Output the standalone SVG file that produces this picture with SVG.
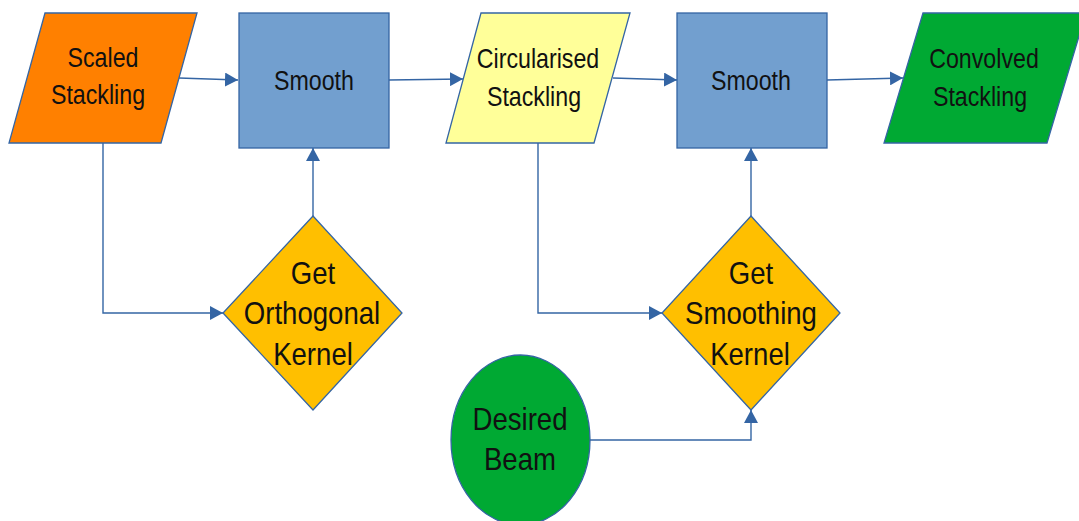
<svg xmlns="http://www.w3.org/2000/svg" width="1079" height="521" viewBox="0 0 1079 521">
  <defs>
    <marker id="arrow" markerUnits="userSpaceOnUse" markerWidth="14" markerHeight="14" viewBox="0 0 14 14" refX="13" refY="7" orient="auto">
      <path d="M0,0 L13,7 L0,14 Z" fill="#3465A4"/>
    </marker>
    <style>
      .shape { stroke: #3465A4; stroke-width: 1.3; }
      .io-orange { fill: #FF8000; }
      .io-yellow { fill: #FFFF99; }
      .io-green { fill: #00A933; }
      .process { fill: #729FCF; }
      .decision { fill: #FFBF00; }
      .start { fill: #00A933; }
      .conn { fill: none; stroke: #3465A4; stroke-width: 1.4; marker-end: url(#arrow); }
      .lbl { font-family: "Liberation Sans", Arial, sans-serif; fill: #111; text-anchor: middle; }
      .top { font-size: 23.2px; }
      .big { font-size: 27.6px; }
    </style>
  </defs>

  <!-- connectors -->
  <g id="connectors">
    <path class="conn" d="M179,78 L238,80"/>
    <path class="conn" d="M389,80 L463,79"/>
    <path class="conn" d="M613,78 L677,80"/>
    <path class="conn" d="M827,80 L903,78"/>
    <path class="conn" d="M313,216 L313,148"/>
    <path class="conn" d="M751,216 L751,148"/>
    <path class="conn" d="M103,143 L103,313 L223,313"/>
    <path class="conn" d="M538,143 L538,313 L662,313"/>
    <path class="conn" d="M590,440 L751,440 L751,410"/>
  </g>

  <!-- Scaled Stackling -->
  <g id="scaled-stackling">
    <polygon class="shape io-orange" points="45,13 197,13 161,143 9,143"/>
    <text class="lbl top" transform="translate(103,67) scale(1,1.2)">Scaled</text>
    <text class="lbl top" transform="translate(98,104) scale(1,1.2)">Stackling</text>
  </g>

  <!-- Smooth (first) -->
  <g id="smooth-1">
    <rect class="shape process" x="239" y="13" width="150" height="135"/>
    <text class="lbl top" transform="translate(314,90) scale(1,1.2)">Smooth</text>
  </g>

  <!-- Circularised Stackling -->
  <g id="circularised-stackling">
    <polygon class="shape io-yellow" points="481,13 630,13 594,143 446,143"/>
    <text class="lbl top" transform="translate(538,68) scale(1,1.2)">Circularised</text>
    <text class="lbl top" transform="translate(534,106) scale(1,1.2)">Stackling</text>
  </g>

  <!-- Smooth (second) -->
  <g id="smooth-2">
    <rect class="shape process" x="677" y="13" width="150" height="135"/>
    <text class="lbl top" transform="translate(751,90) scale(1,1.2)">Smooth</text>
  </g>

  <!-- Convolved Stackling -->
  <g id="convolved-stackling">
    <polygon class="shape io-green" points="923,13 1086,13 1047,143 884,143"/>
    <text class="lbl top" transform="translate(984,68) scale(1,1.2)">Convolved</text>
    <text class="lbl top" transform="translate(980,106) scale(1,1.2)">Stackling</text>
  </g>

  <!-- Get Orthogonal Kernel -->
  <g id="get-orthogonal-kernel">
    <polygon class="shape decision" points="313,216 402,313 313,410 223,313"/>
    <text class="lbl big" transform="translate(313,284) scale(1,1.14)">Get</text>
    <text class="lbl big" transform="translate(312,324) scale(1,1.14)">Orthogonal</text>
    <text class="lbl big" transform="translate(313,365) scale(1,1.14)">Kernel</text>
  </g>

  <!-- Get Smoothing Kernel -->
  <g id="get-smoothing-kernel">
    <polygon class="shape decision" points="751,216 840,313 751,410 662,313"/>
    <text class="lbl big" transform="translate(751,284) scale(1,1.14)">Get</text>
    <text class="lbl big" transform="translate(751,324) scale(1,1.14)">Smoothing</text>
    <text class="lbl big" transform="translate(750,365) scale(1,1.14)">Kernel</text>
  </g>

  <!-- Desired Beam -->
  <g id="desired-beam">
    <ellipse class="shape start" cx="520.5" cy="440" rx="69.5" ry="85"/>
    <text class="lbl big" transform="translate(520,430) scale(1,1.14)">Desired</text>
    <text class="lbl big" transform="translate(520,470) scale(1,1.14)">Beam</text>
  </g>
</svg>
